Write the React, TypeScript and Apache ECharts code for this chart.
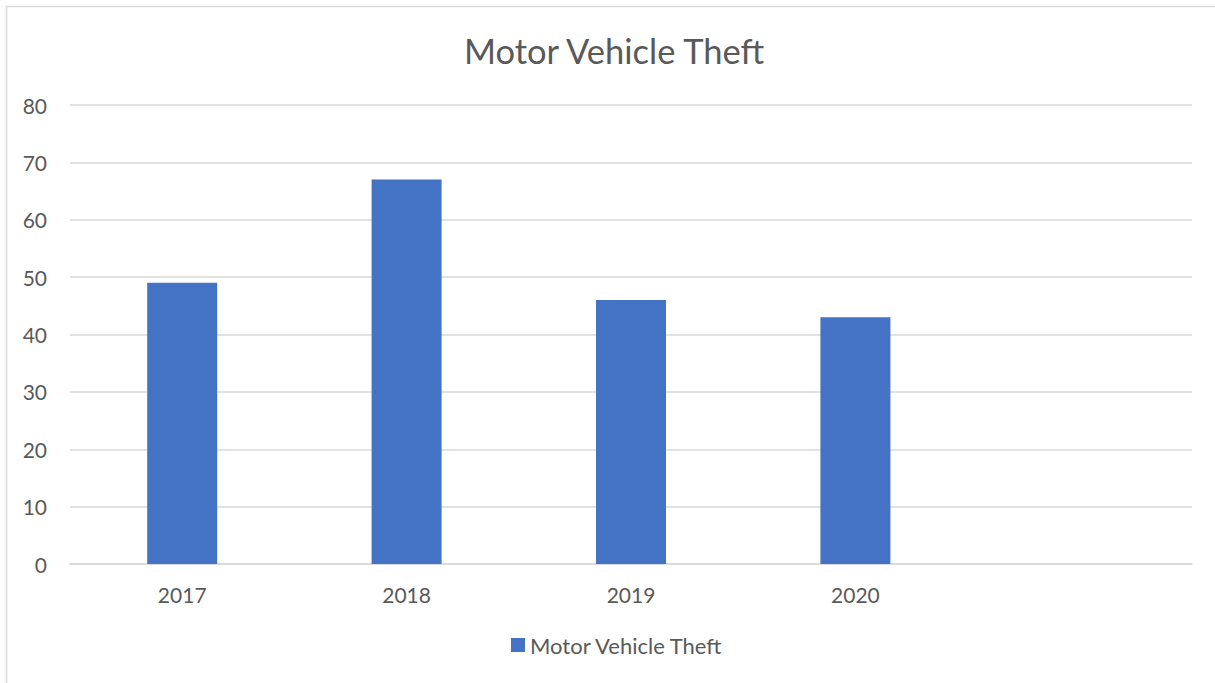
import React, { useEffect, useRef } from "react";
import * as echarts from "echarts";

const categories = ["2017", "2018", "2019", "2020", ""];
const theftValues: (number | null)[] = [49, 67, 46, 43, null];
const yTicks = { min: 0, max: 80, interval: 10 };
const seriesName = "Motor Vehicle Theft";

export default function App() {
  const ref = useRef<HTMLDivElement>(null);
  useEffect(() => {
    if (!ref.current) return;
    const chart = echarts.init(ref.current, undefined, { renderer: "svg" });
    const font = "Lato, 'Open Sans', sans-serif";
    chart.setOption({
      animation: false,
      backgroundColor: "#ffffff",
      textStyle: { fontFamily: font },
      title: {
        text: "Motor Vehicle Theft",
        left: 459,
        top: 28,
        textStyle: { fontSize: 34.5, fontWeight: "normal", color: "#595959", fontFamily: font },
      },
      graphic: [
        {
          type: "rect",
          shape: { x: 6.5, y: 6.5, width: 1230, height: 700 },
          style: { fill: "none", stroke: "#d9d9d9", lineWidth: 1.5 },
          silent: true,
        },
      ],
      legend: {
        bottom: 22,
        left: 506,
        itemWidth: 14,
        itemHeight: 14,
        icon: "rect",
        itemGap: 6,
        textStyle: { fontSize: 22, color: "#595959", fontFamily: font },
        data: [seriesName],
      },
      grid: { left: 70, right: 23, top: 105, bottom: 119, containLabel: false },
      xAxis: {
        type: "category",
        data: categories,
        axisLine: { show: true, lineStyle: { color: "#d9d9d9", width: 1.5 } },
        axisTick: { show: false },
        axisLabel: { fontSize: 21, color: "#595959", margin: 20, fontFamily: font },
      },
      yAxis: {
        type: "value",
        min: yTicks.min,
        max: yTicks.max,
        interval: yTicks.interval,
        axisLine: { show: false },
        axisTick: { show: false },
        splitLine: { lineStyle: { color: "#d9d9d9", width: 1.5 } },
        axisLabel: { fontSize: 21, color: "#595959", margin: 23, fontFamily: font },
      },
      series: [
        {
          name: seriesName,
          type: "bar",
          data: theftValues,
          barWidth: 70,
          itemStyle: { color: "#4472C4" },
        },
      ],
    });
    return () => chart.dispose();
  }, []);
  return (
    <div
      ref={ref}
      style={{ position: "fixed", left: 0, top: 0, width: 1215, height: 683 }}
    />
  );
}
